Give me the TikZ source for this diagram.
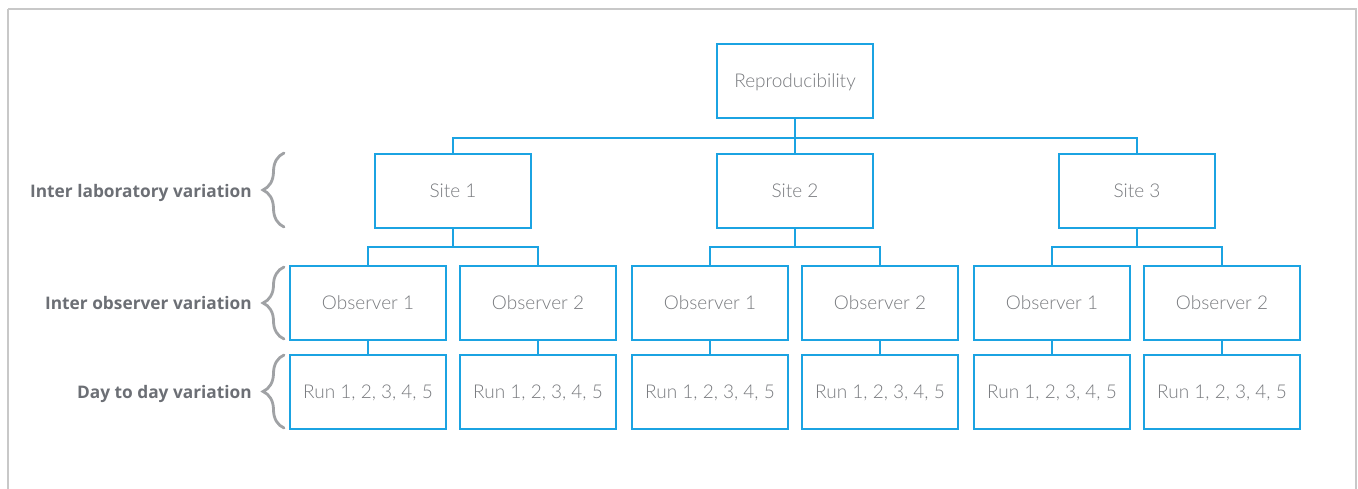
\documentclass[tikz,border=0pt]{standalone}
\usepackage{fontspec}
\setmainfont{Open Sans}
\newfontfamily\boxfont{Lato Light}
\usetikzlibrary{decorations.pathreplacing}
\definecolor{lineblue}{RGB}{27,163,226}
\definecolor{boxtext}{RGB}{120,122,126}
\definecolor{labeltext}{RGB}{108,111,117}
\definecolor{bracegray}{RGB}{160,162,165}
\definecolor{framegray}{RGB}{200,200,200}
\begin{document}
\begin{tikzpicture}[x=1pt,y=-1pt,
  box/.style={draw=lineblue,line width=1.6pt,minimum width=156pt,minimum height=74pt,inner sep=0pt,
    text height=13.4pt,text depth=0pt,
    text=boxtext,font=\boxfont\fontsize{19}{20}\selectfont},
  link/.style={draw=lineblue,line width=1.6pt},
  lvl/.style={anchor=east,text=labeltext,font=\fontsize{17.3}{18}\selectfont\bfseries,inner sep=0pt,
    text height=12.4pt,text depth=0pt},
  brc/.style={draw=bracegray,line width=2.8pt,line cap=round,decorate,decoration={brace,amplitude=21pt}}]
\useasboundingbox (0,0) rectangle (1358,489);
\draw[framegray,line width=1.5pt] (8,9) -- (1356,9) -- (1356,520) (8,9) -- (8,520);
% nodes
\node[box] (root) at (795,81) {Reproducibility};
\node[box] (s1) at (453,191) {Site 1};
\node[box] (s2) at (795,191) {Site 2};
\node[box] (s3) at (1137,191) {Site 3};
\node[box] (o11) at (368,303) {Observer 1};
\node[box] (o12) at (538,303) {Observer 2};
\node[box] (o21) at (710,303) {Observer 1};
\node[box] (o22) at (880,303) {Observer 2};
\node[box] (o31) at (1052,303) {Observer 1};
\node[box] (o32) at (1222,303) {Observer 2};
\node[box] (r11) at (368,392) {Run 1, 2, 3, 4, 5};
\node[box] (r12) at (538,392) {Run 1, 2, 3, 4, 5};
\node[box] (r21) at (710,392) {Run 1, 2, 3, 4, 5};
\node[box] (r22) at (880,392) {Run 1, 2, 3, 4, 5};
\node[box] (r31) at (1052,392) {Run 1, 2, 3, 4, 5};
\node[box] (r32) at (1222,392) {Run 1, 2, 3, 4, 5};
% connectors
\path[link] (root.south) -- (root.south |- 0,138) -| (s1.north);
\path[link] (root.south) -- (root.south |- 0,138) -| (s3.north);
\path[link] (root.south) -- (s2.north);
\foreach \s/\a/\b in {s1/o11/o12,s2/o21/o22,s3/o31/o32}{
  \path[link] (\s.south) -- (\s.south |- 0,247) -| (\a.north);
  \path[link] (\s.south |- 0,247) -| (\b.north);
}
\foreach \o/\r in {o11/r11,o12/r12,o21/r21,o22/r22,o31/r31,o32/r32}{
  \path[link] (\o.south) -- (\r.north);
}
% level labels and braces
\node[lvl] (l1) at (252,191) {Inter laboratory variation};
\node[lvl] (l2) at (252,303) {Inter observer variation};
\node[lvl] (l3) at (252,392) {Day to day variation};
\coordinate (b1a) at (284,227); \coordinate (b1b) at (284,153);
\coordinate (b2a) at (284,339); \coordinate (b2b) at (284,267);
\coordinate (b3a) at (284,428); \coordinate (b3b) at (284,355);
\draw[brc] (b1a) -- (b1b);
\draw[brc] (b2a) -- (b2b);
\draw[brc] (b3a) -- (b3b);
\end{tikzpicture}
\end{document}
